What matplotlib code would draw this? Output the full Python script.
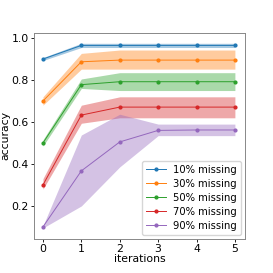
import numpy as np
import matplotlib
matplotlib.use('Agg')
import matplotlib.pyplot as plt

# ── data ──
iterations = [0, 1, 2, 3, 4, 5]
labels = ['10% missing', '30% missing', '50% missing', '70% missing', '90% missing']
colors = ['#1f77b4', '#ff7f0e', '#2ca02c', '#d62728', '#9467bd']

acc_10 = [0.900, 0.965, 0.965, 0.965, 0.965, 0.965]
acc_30 = [0.700, 0.887, 0.895, 0.895, 0.895, 0.895]
acc_50 = [0.500, 0.778, 0.792, 0.792, 0.792, 0.792]
acc_70 = [0.300, 0.633, 0.671, 0.671, 0.671, 0.671]
acc_90 = [0.100, 0.367, 0.505, 0.560, 0.562, 0.562]

low_10 = [0.893, 0.955, 0.955, 0.955, 0.955, 0.955]
high_10 = [0.907, 0.975, 0.975, 0.975, 0.975, 0.975]
low_30 = [0.680, 0.852, 0.852, 0.852, 0.852, 0.852]
high_30 = [0.720, 0.927, 0.943, 0.943, 0.943, 0.943]
low_50 = [0.485, 0.760, 0.750, 0.750, 0.750, 0.750]
high_50 = [0.515, 0.805, 0.835, 0.835, 0.835, 0.835]
low_70 = [0.280, 0.594, 0.620, 0.620, 0.620, 0.620]
high_70 = [0.330, 0.680, 0.720, 0.720, 0.720, 0.720]
low_90 = [0.095, 0.200, 0.386, 0.535, 0.535, 0.535]
high_90 = [0.105, 0.538, 0.637, 0.590, 0.590, 0.590]

means = [acc_10, acc_30, acc_50, acc_70, acc_90]
lows = [low_10, low_30, low_50, low_70, low_90]
highs = [high_10, high_30, high_50, high_70, high_90]

plt.rcParams['font.size'] = 7.8
fig, ax = plt.subplots(figsize=(2.73, 2.73), dpi=100)
fig.subplots_adjust(left=0.125, right=0.897, top=0.879, bottom=0.125)

for m, lo, hi, c, lab in zip(means, lows, highs, colors, labels):
    ax.fill_between(iterations, lo, hi, color=c, alpha=0.4, lw=0)
    ax.plot(iterations, m, color=c, lw=0.7, marker='o', ms=2.0, label=lab)

ax.set_xlim(-0.23, 5.26)
ax.set_ylim(0.043, 1.024)
ax.set_yticks([0.2, 0.4, 0.6, 0.8, 1.0])
ax.set_xticks(iterations)
ax.set_xlabel('iterations', labelpad=0)
ax.set_ylabel('accuracy', labelpad=1)
ax.tick_params(length=2.5, width=0.6, pad=1.5)
for s in ax.spines.values():
    s.set_color('#888888')
    s.set_linewidth(0.7)

ax.legend(loc='lower right', fontsize=7.2, handlelength=2.0, borderpad=0.4,
          labelspacing=0.4, handletextpad=0.7, borderaxespad=0.4,
          edgecolor='#cccccc')

fig.savefig('out.png', dpi=100)
